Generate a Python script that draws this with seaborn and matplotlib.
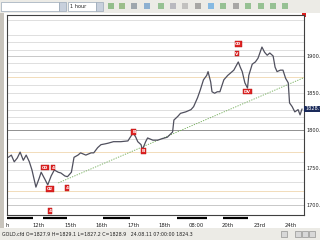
import matplotlib
matplotlib.use("Agg")
import matplotlib.pyplot as plt
import matplotlib.transforms as mtransforms
from matplotlib.patches import Rectangle
import seaborn as sns
import pandas as pd

# ---------------- data ----------------
hours = [0, 2.3, 4.5, 6.8, 9, 11.4, 13.6, 16, 18, 21, 23.5, 25, 28, 30, 32.6, 35, 38, 40, 43, 45,
         48, 50, 53, 55, 59, 63, 65, 68, 70.5, 73.5, 76, 80, 85.6, 91, 95, 97, 98.5, 101, 102, 104.5,
         106, 110, 113.6, 117, 121, 125, 126, 129, 131, 135, 139, 141, 144, 146, 148.5, 151, 152, 154,
         155, 157, 159, 161, 164, 167, 169, 171.6, 175, 176.5, 178, 180, 182, 183, 185.6, 188, 190, 193,
         195, 197, 199, 201.5, 203, 204.5, 207, 209, 211, 213, 214, 216, 218, 220.5, 222, 223.5]
close = [1764, 1767, 1758, 1763, 1771, 1760, 1767, 1758, 1747, 1724, 1736, 1744, 1734, 1727, 1739,
         1747, 1744, 1743, 1739, 1738, 1744, 1764, 1767, 1770, 1767, 1770, 1770, 1777, 1781, 1782,
         1783, 1785, 1785, 1786, 1797, 1791, 1785, 1781, 1774, 1785, 1790, 1787, 1787, 1789, 1791,
         1798, 1814, 1819, 1823, 1825, 1828, 1832, 1844, 1854, 1868, 1874, 1879, 1865, 1852, 1850,
         1852, 1852, 1868, 1874, 1877, 1881, 1892, 1885, 1879, 1864, 1857, 1874, 1889, 1892, 1897,
         1912, 1905, 1901, 1904, 1900, 1885, 1879, 1881, 1881, 1870, 1864, 1837, 1832, 1825, 1828,
         1821, 1828.9]

trend_hours = [38, 225]
trend_prices = [1729.6, 1871]

grid_dotted = [1948, 1928, 1919, 1908, 1891, 1879, 1861, 1850, 1838, 1828, 1818, 1810, 1789,
               1758, 1747, 1731, 1709]
grid_solid = [1900, 1800, 1700]
grid_orange = [1872, 1771, 1719]

mark_hours = [28, 34, 31.8, 44.7, 31.8, 95.5, 103, 175, 174, 182]
mark_prices = [1750, 1750, 1721.5, 1723, 1692, 1798, 1772.5, 1916, 1903, 1852]
mark_labels = ["00", "4", "02", "4", "4", "B", "B", "00", "V", "DV"]

ytick_vals = [1700, 1750, 1800, 1850, 1900]
xtick_hours = [-1, 23, 47, 71, 95, 119, 143, 167, 191, 215]
xtick_labels = ["h", "12th", "15th", "16th", "17th", "18th", "08:00", "20th", "23rd", "24th"]

title_text = ".GOLD.cfd O=1827.9 H=1829.1 L=1827.2 C=1828.9"
status_text = "GOLD.cfd O=1827.9 H=1829.1 L=1827.2 C=1828.9   24.08.11 07:00:00 1824.3"
last_price = 1828.9

# ---------------- figure ----------------
sns.set_theme(style="white")
plt.rcParams['font.family'] = ['DejaVu Sans']
W, H = 320, 240
fig = plt.figure(figsize=(3.2, 2.4), dpi=100)
fig.patch.set_facecolor("#d4d0c8")

# chrome axes in pixel coords
chrome = fig.add_axes([0, 0, 1, 1])
chrome.set_xlim(0, W)
chrome.set_ylim(H, 0)
chrome.axis("off")
chrome.add_patch(Rectangle((4, 13), 316, 215, fc="white", ec="none"))
chrome.add_patch(Rectangle((0, 13), 4, 215, fc="#c8c4bc", ec="none"))
# toolbar
chrome.add_patch(Rectangle((0, 0), 320, 13, fc="#ecebe6", ec="none"))
chrome.add_patch(Rectangle((1, 2), 58, 9, fc="white", ec="#9aa8b8", lw=0.5))
chrome.add_patch(Rectangle((59, 2), 7, 9, fc="#c8d0dc", ec="#9aa8b8", lw=0.5))
chrome.add_patch(Rectangle((68, 2), 28, 9, fc="white", ec="#9aa8b8", lw=0.5))
chrome.text(70, 6.5, "1 hour", fontsize=3.6, va="center", ha="left", color="#202020")
chrome.add_patch(Rectangle((96, 2), 7, 9, fc="#c8d0dc", ec="#9aa8b8", lw=0.5))
icon_x = [108, 119, 131, 144, 158, 170, 182, 195, 208, 220, 233, 245, 258, 270, 282]
icon_c = ["#4a9a40", "#5a9a40", "#607080", "#4080c0", "#50a050", "#9090a0", "#a0a0a0",
          "#707070", "#3090e0", "#50a050", "#707070", "#50a050", "#50a050", "#50a050", "#50a050"]
for ix, ic in zip(icon_x, icon_c):
    chrome.add_patch(Rectangle((ix, 3), 6, 6, fc=ic, ec="none", alpha=0.55))
# status bar
chrome.add_patch(Rectangle((0, 228), 320, 12, fc="#ecebe6", ec="none"))
chrome.text(2, 234, status_text, fontsize=3.4, va="center", ha="left", color="#202020")
for bx in [283, 297, 304, 311]:
    chrome.add_patch(Rectangle((bx - 2, 231), 6, 6, fc="#d8d8d8", ec="#808080", lw=0.4))
# date separator bars under the chart
for a, b in [(7, 33), (43, 67), (103, 130), (177, 207), (223, 248)]:
    chrome.plot([a, b], [218, 218], color="black", lw=1.6, solid_capstyle="butt")
# top info text and close box
chrome.text(168, 18.5, title_text, fontsize=3.5, va="center", ha="left", color="#202020")
chrome.add_patch(Rectangle((302, 13), 4, 4, fc="#e02020", ec="none"))

# main price axes
ax = fig.add_axes([7 / W, 1 - 215 / H, 297 / W, 200 / H])
ax.set_facecolor("white")
ax.set_xlim(-0.5, 225)
ax.set_ylim(1686.6, 1955)

for lv in grid_dotted:
    ax.axhline(lv, color="#b4b4b4", lw=0.6, ls=(0, (1.2, 1.2)), zorder=1)
for lv in grid_orange:
    ax.axhline(lv, color="#e0b060", lw=0.6, ls=(0, (1.2, 1.2)), zorder=1)
for lv, c in zip(grid_solid, ["#c8c8c8", "#909090", "#c8c8c8"]):
    ax.axhline(lv, color=c, lw=0.7, zorder=1)

sns.lineplot(x=trend_hours, y=trend_prices, ax=ax, color="#6aa84f", lw=0.6,
             linestyle=(0, (1.5, 1.5)), zorder=2)
df = pd.DataFrame({"h": hours, "p": close})
sns.lineplot(data=df, x="h", y="p", ax=ax, color="#50505e", lw=0.9, zorder=3)

for mh, mp, ml in zip(mark_hours, mark_prices, mark_labels):
    ax.text(mh, mp, ml, fontsize=3.2, color="white", ha="center", va="center", zorder=5,
            fontweight="bold",
            bbox=dict(boxstyle="square,pad=0.15", fc="#e02424", ec="#b01010", lw=0.3))

ax.yaxis.tick_right()
ax.set_yticks(ytick_vals)
ax.set_yticklabels([f"{v:.1f}" for v in ytick_vals], fontsize=3.6, color="#202020")
ax.tick_params(axis="y", length=0, pad=1.5)
ax.set_xticks(xtick_hours)
ax.set_xticklabels(xtick_labels, fontsize=3.8, color="#202020")
ax.tick_params(axis="x", length=0, pad=6)
ax.set_xlabel("")
ax.set_ylabel("")
for s in ax.spines.values():
    s.set_color("#404040")
    s.set_linewidth(0.8)
    s.set_visible(True)

# last price marker on the price scale
trans = mtransforms.blended_transform_factory(ax.transAxes, ax.transData)
ax.text(1.004, last_price, f"{last_price:.1f}", transform=trans, fontsize=3.6, color="white",
        ha="left", va="center", clip_on=False,
        bbox=dict(boxstyle="square,pad=0.15", fc="#1a2a5a", ec="none"))

fig.savefig("out.png", dpi=100, facecolor=fig.get_facecolor())
